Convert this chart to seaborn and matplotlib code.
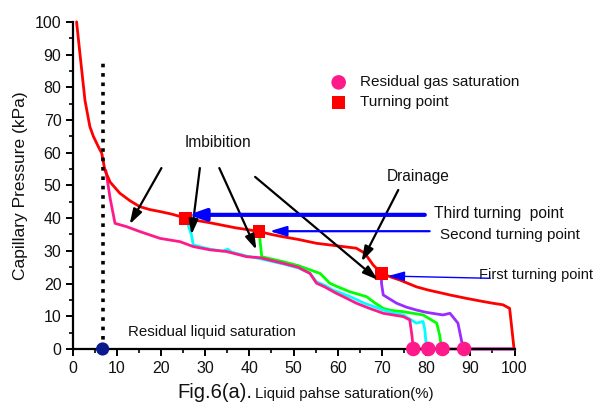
import numpy as np
import pandas as pd
import matplotlib
matplotlib.use("Agg")
import matplotlib.pyplot as plt
from matplotlib.ticker import MultipleLocator
import seaborn as sns

# ---------------- data ----------------
drain_x = [0.9, 1.65, 2.8, 3.9, 4.7, 5.8, 6.6, 7.3, 8.5, 10.7, 13.0, 15.2, 17.5, 19.8,
           22.5, 25.6, 28.0, 31.0, 34.0, 37.0, 39.5, 42.2, 45.0, 47.6, 51.0, 55.2, 60.0,
           64.2, 66.1, 68.0, 69.9, 72.0, 74.0, 77.8, 80.5, 83.8, 85.4, 89.0, 92.9, 95.0,
           97.4, 98.9, 99.9]
drain_y = [100, 90.4, 76, 68, 65, 61.9, 59.8, 54.7, 51.0, 47.6, 45.3, 43.5, 42.6, 42.0,
           41.2, 40.0, 39.3, 38.6, 37.8, 37.0, 36.5, 35.9, 35.0, 34.3, 33.5, 32.3, 31.5,
           30.8, 29.3, 25.7, 23.1, 22.0, 21.1, 19.0, 18.0, 17.0, 16.5, 15.5, 14.5, 14.0,
           13.5, 12.4, 0]

main_x = [7.5, 8.5, 9.6, 12.2, 15.2, 19.8, 24.3, 27.3, 31.1, 34.8, 39.4, 42.4, 47.6, 51.0,
          53.7, 55.2, 57.0, 59.7, 62.0, 64.2, 67.0, 70.3, 72.5, 74.8, 76.3, 76.8, 77.1, 100]
main_y = [54.7, 46.0, 38.4, 37.4, 35.9, 33.8, 32.8, 31.3, 30.3, 29.8, 28.2, 27.9, 26.2, 25.0,
          23.1, 20.1, 19.0, 17.0, 15.5, 14.0, 12.5, 10.9, 10.4, 9.9, 8.9, 4.0, 0, 0]

tp3_x = [25.6, 26.9, 27.3, 29.0, 31.1, 34.0, 35.1, 36.0, 39.4, 42.4, 47.6, 51.0, 53.7, 55.2,
         57.0, 58.9, 62.8, 66.0, 70.3, 72.5, 74.8, 77.8, 79.3, 79.7, 80.1]
tp3_y = [40.0, 34.9, 31.8, 31.2, 30.5, 29.9, 30.5, 29.6, 28.4, 27.6, 26.0, 24.8, 23.2, 20.5,
         19.5, 18.0, 16.0, 14.0, 11.9, 11.0, 10.4, 7.9, 8.4, 6.0, 0]

tp2_x = [42.2, 42.8, 45.0, 47.6, 51.0, 53.7, 56.0, 58.2, 60.0, 62.7, 66.5, 68.5, 70.3, 72.0,
         74.8, 79.3, 82.4, 83.1, 83.5]
tp2_y = [35.9, 28.2, 27.5, 26.7, 25.5, 24.2, 23.1, 20.1, 19.0, 17.5, 16.0, 14.0, 12.4, 11.8,
         11.4, 10.4, 7.9, 4.0, 0]

tp1_x = [69.9, 69.9, 70.3, 71.5, 73.3, 75.5, 77.8, 80.0, 83.8, 85.4, 87.2, 88.4, 100]
tp1_y = [23.1, 20.1, 16.5, 15.5, 14.0, 12.8, 11.9, 11.2, 10.4, 10.9, 7.9, 0, 0]

gas_x = [77.1, 80.5, 83.7, 88.6]
gas_y = [0, 0, 0, 0]
turn_x = [25.6, 42.2, 69.9]
turn_y = [40.0, 35.9, 23.1]
resid_liq_x = [6.8]
resid_liq_y = [0]

# ---------------- style ----------------
sns.set_style("ticks")
plt.rcParams['font.family'] = ['Liberation Sans', 'DejaVu Sans']
plt.rcParams['text.color'] = '#111111'
plt.rcParams['axes.labelcolor'] = '#111111'
plt.rcParams['xtick.color'] = 'black'
plt.rcParams['ytick.color'] = 'black'
plt.rcParams['xtick.labelcolor'] = '#111111'
plt.rcParams['ytick.labelcolor'] = '#111111'

fig = plt.figure(figsize=(6, 4.12), dpi=100)
ax = fig.add_axes([0.121, 0.153, 0.7365, 0.794])

frames = []
for name, xs, ys in [("tp1", tp1_x, tp1_y), ("tp2", tp2_x, tp2_y), ("tp3", tp3_x, tp3_y),
                     ("main", main_x, main_y), ("drain", drain_x, drain_y)]:
    frames.append(pd.DataFrame({"S": xs, "P": ys, "curve": name}))
df = pd.concat(frames, ignore_index=True)
palette = {"tp1": "#9a2cff", "tp2": "#00ff00", "tp3": "#00ffff", "main": "#ff1a8c", "drain": "#ff0000"}
for name in ["tp1", "tp2", "tp3", "main", "drain"]:
    sub = df[df.curve == name]
    sns.lineplot(data=sub, x="S", y="P", color=palette[name], sort=False, estimator=None,
                 lw=2.0, ax=ax, legend=False, clip_on=False)

# dotted residual liquid line
ax.plot([resid_liq_x[0], resid_liq_x[0]], [0, 88], color="black", lw=2.6,
        linestyle=(0, (1.0, 1.6)), zorder=3)

# markers
sns.scatterplot(x=gas_x, y=gas_y, color="#ff1a8c", s=110, marker="o", edgecolor="none",
                ax=ax, clip_on=False, zorder=5, label="Residual gas saturation")
sns.scatterplot(x=turn_x, y=turn_y, color="#ff0000", s=85, marker="s", edgecolor="none",
                ax=ax, clip_on=False, zorder=5, label="Turning point")
sns.scatterplot(x=resid_liq_x, y=resid_liq_y, color="#0b1a8c", s=90, marker="o",
                edgecolor="none", ax=ax, clip_on=False, zorder=5, legend=False)

# black arrows
black = dict(arrowstyle="-|>,head_length=0.9,head_width=0.28", lw=1.6, color="black",
             shrinkA=0, shrinkB=0)
for (sx, sy), (ex, ey) in [((20.1, 55.3), (12.9, 38.1)), ((28.8, 55.3), (26.9, 34.9)),
                           ((33.2, 55.3), (41.6, 30.3)), ((41.3, 52.6), (69.1, 21.1)),
                           ((73.7, 48.6), (65.4, 26.7))]:
    ax.annotate("", xy=(ex, ey), xytext=(sx, sy), arrowprops=black, zorder=6)

# blue arrows
ax.annotate("", xy=(26.2, 41.0), xytext=(79.7, 41.0),
            arrowprops=dict(arrowstyle="-|>,head_length=1.0,head_width=0.35", lw=3.0,
                            color="#0000ff", shrinkA=0, shrinkB=0), zorder=6)
ax.annotate("", xy=(44.6, 36.0), xytext=(80.8, 36.0),
            arrowprops=dict(arrowstyle="-|>,head_length=1.0,head_width=0.3", lw=1.6,
                            color="#0000ff", shrinkA=0, shrinkB=0), zorder=6)
ax.annotate("", xy=(71.4, 22.3), xytext=(94.5, 21.6),
            arrowprops=dict(arrowstyle="-|>,head_length=1.0,head_width=0.3", lw=1.0,
                            color="#0000ff", shrinkA=0, shrinkB=0), zorder=6)

# texts
tfs = 11.2
ax.text(32.9, 63.0, "Imbibition", fontsize=tfs, ha="center", va="center")
ax.text(78.1, 52.6, "Drainage", fontsize=tfs, ha="center", va="center")
ax.text(81.7, 41.3, "Third turning  point", fontsize=tfs, ha="left", va="center", clip_on=False)
ax.text(83.1, 34.8, "Second turning point", fontsize=11, ha="left", va="center", clip_on=False)
ax.text(91.9, 22.6, "First turning point", fontsize=10.5, ha="left", va="center", clip_on=False)
ax.text(12.6, 5.3, "Residual liquid saturation", fontsize=10.8, ha="left", va="center")

# legend
ax.legend(loc="upper left", bbox_to_anchor=(0.571, 0.855), frameon=False,
          fontsize=11, handletextpad=0.9, labelspacing=0.4, handlelength=1.0,
          borderaxespad=0)

# axes
ax.set_xlim(0, 100)
ax.set_ylim(0, 100)
ax.xaxis.set_major_locator(MultipleLocator(10))
ax.yaxis.set_major_locator(MultipleLocator(10))
ax.xaxis.set_minor_locator(MultipleLocator(5))
ax.yaxis.set_minor_locator(MultipleLocator(5))
ax.tick_params(which="major", direction="out", length=5, width=1.4, labelsize=11.5, pad=3,
               color="black", labelcolor="#111111")
ax.tick_params(axis="x", which="major", pad=4)
ax.tick_params(which="minor", direction="out", length=3, width=1.2, color="black")
for side in ["top", "right"]:
    ax.spines[side].set_visible(False)
for side in ["left", "bottom"]:
    ax.spines[side].set_linewidth(1.6)
    ax.spines[side].set_color("black")
ax.set_xlabel("")
ax.set_ylabel("Capillary Pressure (kPa)", fontsize=12.5, labelpad=5)

fig.text(252 / 600, 1 - 398 / 412, "Fig.6(a).", fontsize=14.5, ha="right", va="baseline")
fig.text(255 / 600, 1 - 398 / 412, "Liquid pahse saturation(%)", fontsize=10.8, ha="left",
         va="baseline")

fig.savefig("out.png", dpi=100)
